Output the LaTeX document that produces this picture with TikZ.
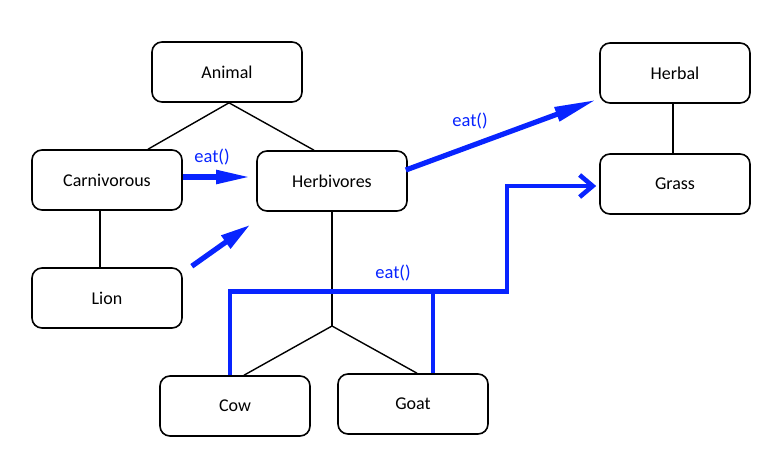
\documentclass[tikz,border=0pt]{standalone}
\usepackage{fontspec}
\setmainfont{Carlito}
\usetikzlibrary{arrows.meta,calc}
\definecolor{eatblue}{RGB}{8,36,255}
\tikzset{
  box/.style={draw=black, line width=1.6pt, rounded corners=10pt, minimum width=150pt, minimum height=60pt, inner sep=0pt, font=\fontsize{18pt}{20pt}\selectfont, fill=white},
  tree/.style={draw=black, line width=1.4pt},
  eatarrow/.style={draw=eatblue, line width=5.2pt, -{Triangle[length=34pt,width=13pt]}},
  eatpath/.style={draw=eatblue, line width=4.6pt, miter limit=10},
  eatlabel/.style={text=eatblue, font=\fontsize{18.5pt}{20pt}\selectfont, inner sep=0pt}
}
\begin{document}
\begin{tikzpicture}[x=1pt,y=-1pt]
\useasboundingbox (0,0) rectangle (778,461);
% nodes
\node[box] (animal) at (227,72) {Animal};
\node[box] (carn) at (107,180) {Carnivorous};
\node[box] (herb) at (332,181) {Herbivores};
\node[box] (lion) at (107,298) {Lion};
\node[box] (herbal) at (675,73) {Herbal};
\node[box] (grass) at (675,184) {Grass};
\node[box] (cow) at (235,406) {Cow};
\node[box] (goat) at (413,404) {Goat};
\coordinate (junc) at (332,326);
% tree lines
\draw[tree] ($(animal.south)+(2,0)$) -- ($(carn.north)+(41,0)$);
\draw[tree] ($(animal.south)+(2,0)$) -- ($(herb.north)+(-18,0)$);
\draw[tree] ($(carn.south)+(-7,0)$) -- ($(lion.north)+(-7,0)$);
\draw[tree] ($(herbal.south)+(-2,0)$) -- ($(grass.north)+(-2,0)$);
\draw[tree] (herb.south) -- (junc);
\draw[tree] (junc) -- ($(cow.north)+(9,0)$);
\draw[tree] (junc) -- ($(goat.north)+(4,0)$);
% blue arrows
\draw[eatarrow] ($(carn.east)+(0,-3)$) -- ($(herb.west)+(-6,-4)$);
\node[eatlabel] (l1) at (212,157) {eat()};
\draw[eatarrow, -{Triangle[length=30pt,width=15pt]}] ($(lion.north east)+(9,-1)$) -- ($(herb.south west)+(-6,13)$);
\draw[eatarrow, -{Triangle[length=42pt,width=14pt]}] ($(herb.east)+(-2,-11)$) -- ($(herbal.south west)+(-3,-4)$);
\node[eatlabel] (l2) at (470,121) {eat()};
% eat path to grass
\coordinate (pl) at ($(cow.north)+(-5,-84)$);
\draw[eatpath, -{Straight Barb[length=13pt,width=22pt]}] ($(cow.north)+(-5,0)$) -- (pl) -- (pl -| 507,0) |- ($(grass.west)+(-3,2)$);
\draw[eatpath] (pl -| 433,0) -- ($(goat.north)+(20,0)$);
\node[eatlabel] (l3) at (393,273) {eat()};
\end{tikzpicture}
\end{document}
